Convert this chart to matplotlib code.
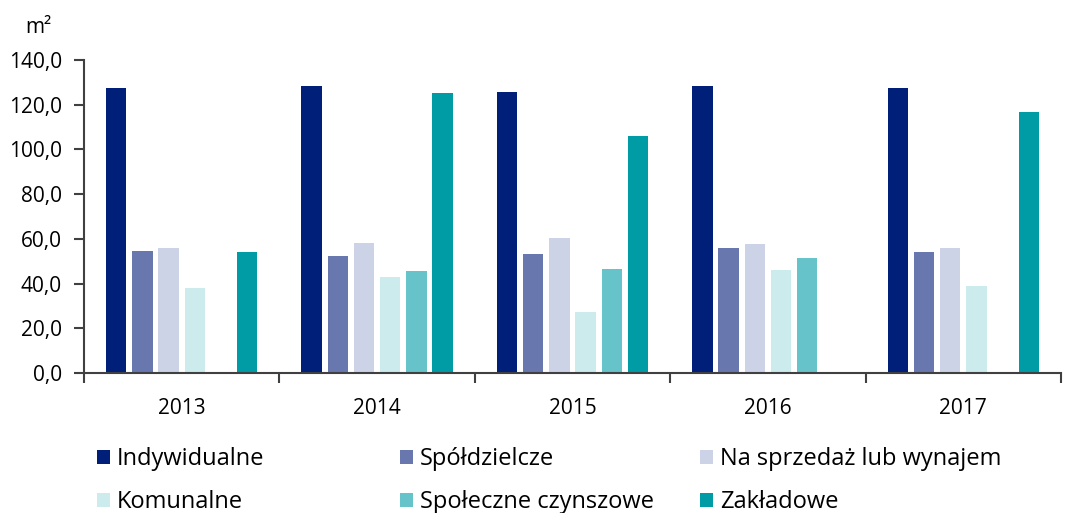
import matplotlib.pyplot as plt
import numpy as np

plt.rcParams['font.family'] = ['Open Sans', 'DejaVu Sans']

years = ['2013', '2014', '2015', '2016', '2017']
series_names = ['Indywidualne', 'Spółdzielcze', 'Na sprzedaż lub wynajem',
                'Komunalne', 'Społeczne czynszowe', 'Zakładowe']
indywidualne = [127.3, 128.4, 125.7, 128.4, 127.6]
spoldzielcze = [54.5, 52.5, 53.4, 55.7, 54.0]
na_sprzedaz = [56.0, 58.1, 60.4, 57.6, 56.0]
komunalne = [37.9, 43.0, 27.2, 46.1, 39.0]
spoleczne = [np.nan, 45.5, 46.3, 51.3, np.nan]
zakladowe = [54.3, 125.1, 106.0, np.nan, 116.6]
colors = ['#001F78', '#6878AE', '#CDD3E6', '#CCEBEC', '#66C3CA', '#009CA6']

series = [indywidualne, spoldzielcze, na_sprzedaz, komunalne, spoleczne, zakladowe]

fig = plt.figure(figsize=(10.66, 5.13), dpi=100)
ax = fig.add_axes([0.0788, 0.2729, 0.9165, 0.6102])

x = np.arange(len(years))
slot = 0.134
bar_w = 0.104
handles = []
for i, (vals, col) in enumerate(zip(series, colors)):
    pos = x + (i - 2.5) * slot
    b = ax.bar(pos, vals, width=bar_w, color=col, label=series_names[i])
    handles.append(b)

ax.set_xlim(-0.5, 4.5)
ax.set_ylim(0, 140)
ax.set_yticks(np.arange(0, 141, 20))
ax.set_yticklabels([f'{v:.1f}'.replace('.', ',') for v in np.arange(0, 141, 20)])
ax.set_xticks(x)
ax.set_xticklabels(years)
ax.set_xticks(np.arange(-0.5, 4.6, 1), minor=True)
ax.tick_params(axis='x', which='major', length=0, pad=18, labelsize=15)
ax.tick_params(axis='x', which='minor', length=7, width=1.5, color='#404040', direction='out')
ax.tick_params(axis='y', length=7, width=1.5, color='#404040', labelsize=15, pad=9)

for s in ['top', 'right']:
    ax.spines[s].set_visible(False)
for s in ['left', 'bottom']:
    ax.spines[s].set_color('#404040')
    ax.spines[s].set_linewidth(1.5)

fig.text(0.024, 0.947, 'm²', fontsize=15, va='center', ha='left')

# legend: three columns, each placed separately
col_x = [0.091, 0.375, 0.657]
for c in range(3):
    hs = [handles[c], handles[c + 3]]
    ls = [series_names[c], series_names[c + 3]]
    fig.legend(hs, ls, loc='upper left', bbox_to_anchor=(col_x[c], 0.128),
               frameon=False, fontsize=17, handlelength=0.55, handleheight=0.55,
               handletextpad=0.3, labelspacing=0.8, borderaxespad=0, borderpad=0)

fig.savefig('out.png', dpi=100)
